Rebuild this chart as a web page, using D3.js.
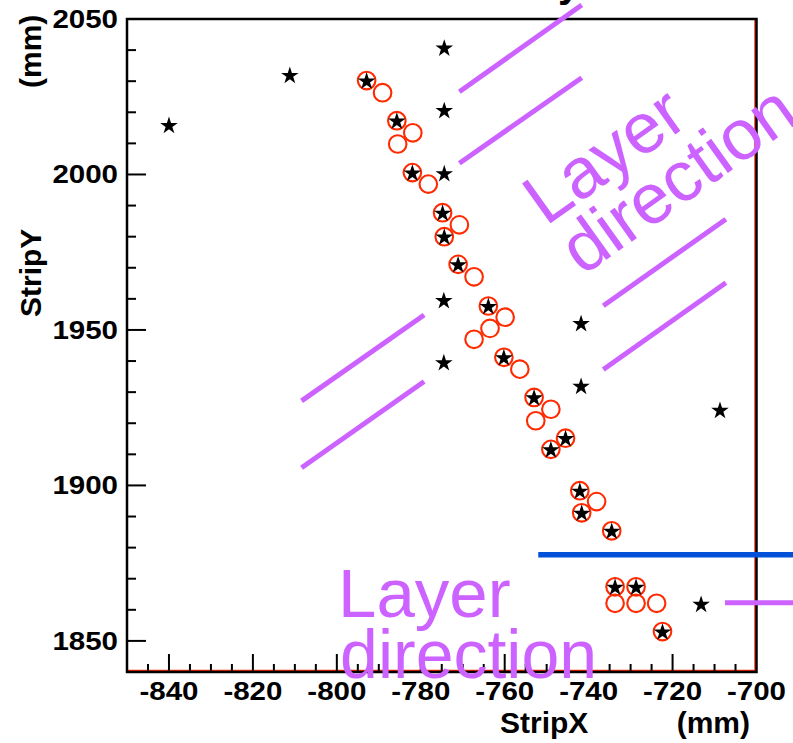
<!DOCTYPE html>
<html>
<head>
<meta charset="utf-8">
<script src="https://cdn.jsdelivr.net/npm/d3@7"></script>
<style>
  body { margin: 0; background: #fff; }
  svg text { font-family: "Liberation Sans", Arial, Helvetica, sans-serif; }
</style>
</head>
<body>
<div id="chart"></div>
<script>
// Strip hits (black stars), all of them
const hitX = [-840.0, -811.2, -774.4, -774.4, -774.4, -774.5, -774.5, -741.8, -741.8, -708.7, -713.2,
              -792.9, -785.7, -782.0, -774.8, -774.4, -771.1, -763.9, -760.2, -753.0, -745.5, -749.0,
              -742.1, -741.65, -734.5, -733.7, -728.7, -722.4];
const hitY = [2015.9, 2032.0, 2040.8, 2020.7, 2000.4, 1959.6, 1939.6, 1952.2, 1932.0, 1924.3, 1861.9,
              2030.2, 2017.3, 2000.6, 1987.7, 1980.0, 1971.1, 1957.7, 1941.2, 1928.3, 1915.2, 1911.6,
              1898.3, 1891.2, 1885.4, 1867.4, 1867.4, 1853.0];

// Track-associated points (red open circles)
const trackX = [-792.9, -785.7, -782.0, -774.8, -774.4, -771.1, -763.9, -760.2, -753.0, -745.5, -749.0,
                -742.1, -741.65, -734.5, -733.7, -728.7, -722.4,
                -789.1, -781.9, -785.5, -778.2, -770.8, -767.3, -759.9, -763.5, -767.3, -756.4,
                -749.0, -752.6, -738.1, -733.7, -728.7, -723.8];
const trackY = [2030.2, 2017.3, 2000.6, 1987.7, 1980.0, 1971.1, 1957.7, 1941.2, 1928.3, 1915.2, 1911.6,
                1898.3, 1891.2, 1885.4, 1867.4, 1867.4, 1853.0,
                2026.3, 2013.4, 2009.8, 1996.9, 1983.8, 1967.1, 1954.1, 1950.5, 1947.0, 1937.4,
                1924.5, 1920.8, 1894.8, 1862.1, 1862.1, 1862.1];

// Annotation strokes, [x1, y1, x2, y2] in mm
const layerLines = [
    [-770.8, 2026.6, -741.65, 2054.5],
    [-770.8, 2003.6, -741.65, 2031.1],
    [-808.4, 1927.2, -779.2, 1954.8],
    [-808.4, 1905.7, -779.2, 1933.4],
    [-736.5, 1957.8, -707.3, 1985.6],
    [-736.5, 1937.3, -707.3, 1965.2],
    [-707.5, 1862.3, -691.3, 1862.3]
];
const boundaryLine = [-752.0, 1877.7, -691.3, 1877.7];

const xTicks = [-840, -820, -800, -780, -760, -740, -720, -700];
const yTicks = [1850, 1900, 1950, 2000, 2050];

const W = 793, H = 743;
const svg = d3.select("#chart").append("svg")
    .attr("width", W)
    .attr("height", H);

const x = d3.scaleLinear().domain([-850, -700]).range([127, 756.5]);
const y = d3.scaleLinear().domain([1840, 2050]).range([672, 19]);

const purple = "#cc62ff";
const red = "#ff2a00";

// Frame
const frame = svg.append("g");
frame.append("line").attr("x1", x(-700) - 1.5).attr("x2", x(-700) - 1.5)
    .attr("y1", y(2050)).attr("y2", y(1840)).attr("stroke", red).attr("stroke-width", 1.5);
frame.append("line").attr("x1", x(-850)).attr("x2", x(-700))
    .attr("y1", y(1840) - 1.5).attr("y2", y(1840) - 1.5).attr("stroke", red).attr("stroke-width", 1.5);
frame.append("rect")
    .attr("x", x(-850)).attr("y", y(2050))
    .attr("width", x(-700) - x(-850)).attr("height", y(1840) - y(2050))
    .attr("fill", "none").attr("stroke", "#000").attr("stroke-width", 2.5);

// Y ticks: major every 50, minor every 10
d3.range(1850, 2051, 10).forEach(v => {
    const major = v % 50 === 0;
    frame.append("line")
        .attr("x1", x(-850)).attr("x2", x(-850) + (major ? 19 : 9))
        .attr("y1", y(v)).attr("y2", y(v))
        .attr("stroke", "#000").attr("stroke-width", 2);
});
// X ticks: major every 20, minor every 5
d3.range(-845, -700, 5).forEach(v => {
    const major = v % 20 === 0;
    frame.append("line")
        .attr("x1", x(v)).attr("x2", x(v))
        .attr("y1", y(1840)).attr("y2", y(1840) - (major ? 18 : 8))
        .attr("stroke", "#000").attr("stroke-width", 2);
});

// Tick labels (wide bold)
yTicks.forEach(v => {
    svg.append("text")
        .attr("transform", `translate(118,${y(v)}) scale(1.18,1)`)
        .attr("dy", "0.36em")
        .attr("text-anchor", "end")
        .attr("font-size", 25).attr("font-weight", "bold")
        .text(v);
});
xTicks.forEach(v => {
    svg.append("text")
        .attr("transform", `translate(${x(v)},700) scale(1.18,1)`)
        .attr("text-anchor", "middle")
        .attr("font-size", 25).attr("font-weight", "bold")
        .text(v);
});

// Axis titles
svg.append("text").attr("x", 500).attr("y", 733)
    .attr("font-size", 30).attr("font-weight", "bold").text("StripX");
svg.append("text").attr("x", 750).attr("y", 733).attr("text-anchor", "end")
    .attr("font-size", 30).attr("font-weight", "bold").text("(mm)");
svg.append("text").attr("transform", "translate(41,317) rotate(-90)")
    .attr("font-size", 30).attr("font-weight", "bold").text("StripY");
svg.append("text").attr("transform", "translate(41,88) rotate(-90)")
    .attr("font-size", 30).attr("font-weight", "bold").text("(mm)");

// Cut-off title glyph at top
svg.append("text").attr("x", 558).attr("y", -3)
    .attr("font-size", 40).attr("font-weight", "bold").text("y");

// Annotation lines
svg.selectAll("line.layer")
    .data(layerLines)
    .join("line")
    .attr("class", "layer")
    .attr("x1", d => x(d[0])).attr("y1", d => y(d[1]))
    .attr("x2", d => x(d[2])).attr("y2", d => y(d[3]))
    .attr("stroke", purple).attr("stroke-width", 5);

svg.append("line")
    .attr("x1", x(boundaryLine[0])).attr("y1", y(boundaryLine[1]))
    .attr("x2", x(boundaryLine[2])).attr("y2", y(boundaryLine[3]))
    .attr("stroke", "#0050d8").attr("stroke-width", 5.5);

// "Layer direction" labels
const rot = svg.append("g")
    .attr("transform", `translate(${x(-750.2)},${y(1983.2)}) rotate(-35.5)`);
rot.append("text").attr("x", 0).attr("y", 0)
    .attr("font-size", 71).attr("fill", purple).text("Layer");
rot.append("text").attr("x", 1).attr("y", 62)
    .attr("font-size", 71).attr("fill", purple).text("direction");

svg.append("text").attr("x", x(-799.7)).attr("y", y(1857.7))
    .attr("font-size", 69).attr("fill", purple).text("Layer");
svg.append("text").attr("x", x(-799.7) + 2).attr("y", y(1857.7) + 61)
    .attr("font-size", 68).attr("fill", purple).text("direction");

// Track circles
svg.selectAll("circle.track")
    .data(trackX.map((v, i) => [v, trackY[i]]))
    .join("circle")
    .attr("class", "track")
    .attr("cx", d => x(d[0])).attr("cy", d => y(d[1]))
    .attr("r", 8.8)
    .attr("fill", "none").attr("stroke", red).attr("stroke-width", 2.1);

// Hit stars
const star = d3.symbol().type(d3.symbolStar).size(96);
svg.selectAll("path.hit")
    .data(hitX.map((v, i) => [v, hitY[i]]))
    .join("path")
    .attr("class", "hit")
    .attr("transform", d => `translate(${x(d[0])},${y(d[1]) + 0.8})`)
    .attr("d", star)
    .attr("fill", "#000");
</script>
</body>
</html>
